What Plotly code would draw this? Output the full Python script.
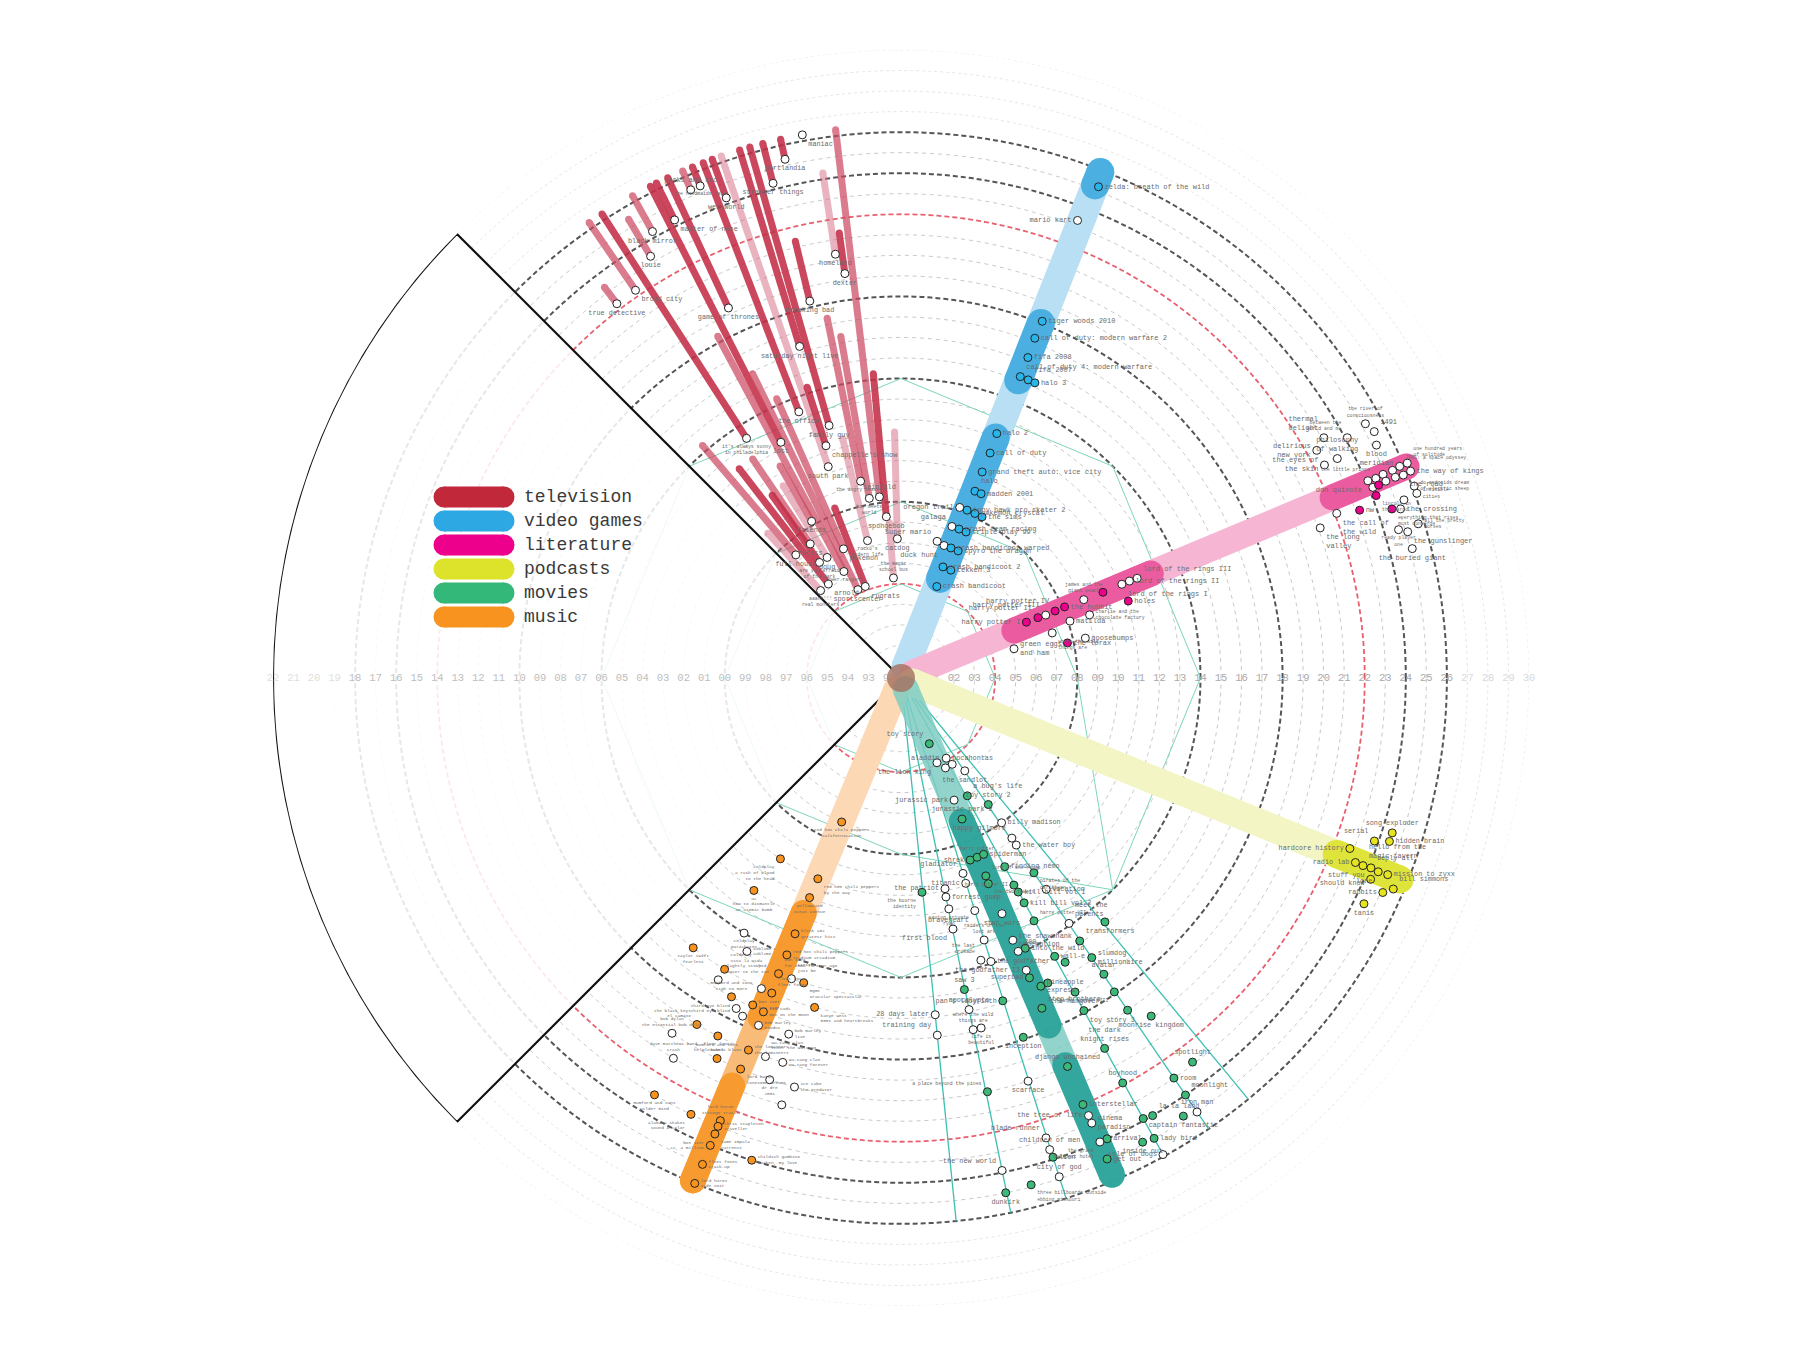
import numpy as np
import plotly.graph_objects as go

FONT = "Liberation Mono"
R_MIN = -0.585          # radial value at the very centre (age 0 sits on a small hub)
LABEL_GRAY = "#6b6b6b"

# ---------------- rings / ticks ----------------
ring_ages = list(range(1, 31))
dark_ring_ages = [8, 14, 18, 24, 26]
red_ring_ages = [4, 22]
faint_ring_ages = [27, 28, 29, 30]
tick_ages = list(range(0, 31))
left_tick_labels = ["92", "93", "94", "95", "96", "97", "98", "99", "00", "01", "02", "03", "04", "05", "06", "07",
                    "08", "09", "10", "11", "12", "13", "14", "15", "16", "17", "18", "19", "20", "21", "22"]
right_tick_labels = ["00", "01", "02", "03", "04", "05", "06", "07", "08", "09", "10", "11", "12", "13", "14", "15",
                     "16", "17", "18", "19", "20", "21", "22", "23", "24", "25", "26", "27", "28", "29", "30"]

# ---------------- radar polygons (movies) ----------------
poly_angles = [0, 45, 90, 135, 180, 225, 270, 315, 360]
poly_outer = [14, 14, 14, 14, 14, 14, 14, 14, 14]
poly_mid = [8, 8, 8, 8, 8, 8, 8, 14, 8]
poly_inner = [4, 4, 4, 4, 4, 4, 4, 4, 4]

# ---------------- legend ----------------
legend_labels = ["television", "video games", "literature", "podcasts", "movies", "music"]
legend_colors = ["#c1283a", "#2ea8e2", "#ec008c", "#dce32a", "#33b87a", "#f7931e"]

# ---------------- television ----------------
tv_names = ["broad city", "it's always sunny<br>in philadelphia", "true detective", "louie", "black mirror", "lost",
            "master of none", "game of thrones", "parks and rec", "the handmaids tale", "the office", "westworld",
            "south park", "saturday night live", "family guy", "stranger things", "portlandia", "maniac", "homeland",
            "dexter", "seinfeld", "breaking bad", "the angry beavers", "boy meets<br>world", "spongebob",
            "power rangers", "chappelle's show", "pokemon", "catdog", "the magic<br>school bus", "rocko's<br>modern life",
            "friends", "recess", "full house", "doug", "are you afraid<br>of the dark", "arnold",
            "aaahh!!!<br>real monsters", "sportscenter", "rugrats"]
tv_angle = [124.4, 122.8, 127.2, 120.7, 119.1, 117.0, 116.3, 115.0, 113.3, 112.2, 111.0, 110.0, 109.0, 107.0, 105.9,
            104.5, 102.6, 100.3, 98.8, 97.9, 96.8, 103.6, 101.6, 100.0, 95.2, 118.2, 107.9, 114.0, 91.5, 94.3, 103.7,
            119.7, 124.1, 130.5, 121.5, 125.2, 127.7, 132.6, 116.0, 111.3]
tv_start = [22.3, 13.3, 22.3, 23.3, 24.3, 12.3, 24.3, 19.3, 25.3, 25.3, 13.3, 24.3, 10.3, 16.3, 12.2, 24.3, 25.3, 26.3,
            20.3, 19.3, 8.3, 18.3, 9.2, 8.3, 7.3, 5.3, 11.3, 6.3, 6.2, 4.3, 6.3, 8.2, 7.3, 7.3, 6.3, 6.3, 5.2, 5.2,
            4.2, 4.2]
tv_end = [26.3, 26.3, 23.3, 25.4, 26.3, 26.3, 26.3, 26.3, 26.3, 26.3, 26.3, 26.3, 26.3, 26.3, 26.3, 26.3, 26.3, 26.3,
          24.3, 21.3, 26.3, 21.3, 17.3, 16.3, 14.3, 18.3, 14.3, 14.3, 11.4, 7.0, 11.4, 11.3, 12.3, 14.3, 10.4, 10.3,
          12.3, 9.0, 15.9, 8.3]
tv_tone = [1, 2, 1, 1, 1, 2, 2, 2, 1, 2, 2, 2, 0, 2, 2, 2, 2, 2, 0, 2, 1, 2, 1, 1, 2, 1, 2, 1, 0, 0, 0, 1, 1, 1, 0, 2,
           2, 0, 1, 2]
tv_small = [0, 1, 0, 0, 0, 0, 0, 0, 0, 1, 0, 0, 0, 0, 0, 0, 0, 0, 0, 0, 0, 0, 1, 1, 0, 1, 0, 0, 0, 1, 1, 0, 0, 0, 0, 1,
            0, 1, 0, 0]
tv_pos = ["bottom right", "bottom center", "bottom center", "bottom center", "bottom center", "bottom center",
          "bottom right", "bottom center", "top center", "bottom center", "bottom center", "bottom center",
          "bottom center", "bottom center", "bottom center", "bottom center", "bottom center", "bottom right",
          "bottom center", "bottom center", "top center", "bottom center", "bottom center", "bottom center",
          "bottom center", "bottom center", "bottom right", "bottom right", "bottom center", "top center",
          "bottom center", "bottom center", "bottom center", "bottom center", "bottom center", "bottom center",
          "bottom right", "bottom center", "bottom center", "bottom right"]

# ---------------- video games ----------------
vg_band_angle = 68.5
vg_band_end = 25.9
vg_dark_segments = [(4.6, 12.0), (15.0, 18.0), (25.2, 25.9)]
vg_names = ["zelda: breath of the wild", "mario kart", "tiger woods 2010", "call of duty: modern warfare 2",
            "fifa 2008", "call of duty 4: modern warfare", "fifa 2007", "halo 3", "halo 2", "call of duty",
            "grand theft auto: vice city", "halo", "madden 2001", "oregon trail", "tony hawk pro skater 2",
            "pokemon crystal", "the sims", "galaga", "crash team racing", "triple play 99", "super mario",
            "duck hunt", "crash bandicoot warped", "spyro the dragon", "crash bandicoot 2", "tekken 3",
            "crash bandicoot"]
vg_age = [25.2, 23.3, 18.1, 17.2, 16.2, 15.2, 15.2, 15.2, 12.2, 11.2, 10.2, 9.2, 9.2, 8.2, 8.2, 8.2, 8.2, 7.2, 7.2,
          7.2, 6.3, 6.2, 6.2, 6.2, 5.2, 5.2, 4.2]
vg_angle = [68.1, 68.9, 68.4, 68.5, 68.4, 68.4, 66.9, 65.6, 68.6, 68.4, 68.5, 68.4, 66.5, 71.0, 68.5, 65.8, 63.3,
            71.4, 68.7, 66.0, 75.2, 72.0, 69.0, 65.8, 69.3, 65.2, 68.6]
vg_filled = [1, 0, 1, 1, 1, 1, 1, 1, 1, 1, 1, 1, 1, 0, 1, 1, 1, 0, 1, 1, 0, 0, 1, 1, 1, 1, 1]
vg_pos = ["middle right", "middle left", "middle right", "middle right", "middle right", "top right", "top right",
          "middle right", "middle right", "middle right", "middle right", "top right", "middle right", "middle left",
          "middle right", "middle right", "middle right", "top left", "middle right", "middle right", "top left",
          "bottom left", "middle right", "middle right", "middle right", "middle right", "middle right"]

# ---------------- literature ----------------
lit_band_angle = 22.7
lit_band_end = 26.1
lit_dark_segments = [(5.4, 12.6), (22.2, 26.1)]
lit_names = ["harry potter I", "harry potter II", "harry potter III", "harry potter IV", "the hobbit",
             "james and the<br>giant peach", "", "lord of the rings I", "lord of the rings II", "lord of the rings III",
             "holes", "charlie and the<br>chocolate factory", "matilda", "where the wild<br>things are", "goosebumps",
             "the lorax", "green eggs<br>and ham",
             "the river of<br>consciousness", "1491", "blood<br>meridian", "between the<br>world and me",
             "thermal<br>delight", "delirious<br>new york", "philosophy<br>of walking", "the eyes of<br>the skin",
             "don quixote", "the little prince", "", "", "2001: a space odyssey", "one hundred years<br>of solitude",
             "the way of kings", "the road", "", "", "", "", "lincoln in<br>the bardo", "nw",
             "everything that rises<br>must converge", "the crossing", "the call of<br>the wild", "the long<br>valley",
             "", "do androids dream<br>of electric sheep", "invisible<br>cities", "all the pretty<br>horses",
             "ready player<br>one", "the gunslinger", "the buried giant"]
lit_age = [6.1, 6.7, 7.1, 7.6, 8.1, 9.1, 10.1, 11.1, 11.5, 11.9, 11.1, 9.1, 8.1, 7.1, 8.6, 7.7, 5.1,
           25.2, 25.4, 25.2, 24.1, 23.1, 22.5, 23.2, 22.5, 24.1, 24.5, 24.9, 25.4, 25.8, 26.2, 26.2, 25.8, 25.4,
           24.9, 24.2, 24.5, 24.2, 23.2, 24.7, 25.1, 22.1, 21.1, 25.4, 26.1, 26.1, 25.7, 24.7, 25.1, 25.1]
lit_angle = [24.0, 23.8, 23.5, 23.5, 23.5, 23.2, 23.0, 23.0, 23.0, 22.9, 18.7, 18.5, 18.6, 16.6, 12.2, 11.9, 14.5,
             28.7, 27.5, 26.1, 28.3, 29.6, 28.7, 26.7, 26.7, 22.9, 22.8, 22.9, 22.9, 23.0, 23.0, 22.1, 22.0, 22.1,
             22.1, 22.0, 22.0, 21.0, 20.1, 19.0, 18.7, 20.7, 19.7, 19.5, 20.5, 19.7, 16.6, 16.6, 16.1, 14.2]
lit_filled = [1, 1, 0, 1, 1, 0, 1, 0, 0, 0, 1, 0, 0, 0, 0, 1, 0,
              0, 0, 0, 0, 0, 0, 0, 0, 0, 0, 0, 0, 0, 0, 0, 0, 0, 0, 0, 1, 1, 1, 1, 0, 0, 0, 0, 0, 0, 0, 0, 0, 0]
lit_small = [0, 0, 0, 0, 0, 1, 0, 0, 0, 0, 0, 1, 0, 1, 0, 0, 0,
             1, 0, 0, 1, 0, 0, 0, 0, 0, 1, 0, 0, 1, 1, 0, 0, 0, 0, 0, 0, 1, 0, 1, 0, 0, 0, 0, 1, 1, 1, 1, 0, 0]
lit_pos = ["middle left", "top left", "top left", "top left", "middle right", "top center", "middle right",
           "bottom right", "middle right", "top right", "middle right", "middle right", "middle right",
           "bottom right", "middle right", "middle right", "middle right",
           "top center", "top right", "bottom center", "top left", "top left", "middle left", "top center",
           "middle left", "bottom left", "top left", "middle right", "middle right", "top right", "top right",
           "middle right", "bottom right", "middle right", "middle right", "middle right", "middle right",
           "bottom right", "middle right", "bottom right", "middle right", "bottom right", "bottom right",
           "middle right", "middle right", "middle right", "middle right", "bottom center", "bottom right",
           "bottom center"]

# ---------------- podcasts ----------------
pod_band_angle = -22.0
pod_band_end = 25.6
pod_dark_segments = [(22.3, 25.6)]
pod_names = ["hardcore history", "radio lab", "hello from the<br>magic tavern", "reply all", "lore",
             "mission to zyxx", "stuff you<br>should know", "serial", "hidden brain", "song exploder", "bill simmons",
             "rabbits", "tanis"]
pod_age = [22.8, 23.3, 23.7, 24.1, 24.5, 24.98, 24.3, 23.8, 24.5, 24.5, 25.5, 25.1, 24.5]
pod_angle = [-20.8, -22.1, -22.1, -22.0, -22.1, -22.0, -23.2, -19.0, -18.5, -17.5, -23.2, -24.0, -26.0]
pod_pos = ["middle left", "middle left", "top right", "top right", "bottom left", "middle right", "middle left",
           "top left", "middle right", "top center", "top right", "middle left", "bottom center"]

# ---------------- music ----------------
mus_band_angle = -112.5
mus_band_end = 25.9
mus_mid_segment = (11.8, 25.9)
mus_dark_segments = [(11.8, 17.3), (20.9, 25.9)]
mus_names = ["red hot chili peppers<br>californication", "coldplay<br>a rush of blood<br>to the head",
             "red hot chili peppers<br>by the way", "yellowcard<br>ocean avenue",
             "u2<br>how to dismantle<br>an atomic bomb", "blink 182<br>greatest hits",
             "red hot chili peppers<br>stadium arcadium", "bon iver<br>for emma forever ago",
             "fleet foxes<br>fleet foxes", "kid cudi<br>man on the moon", "bon iver<br>bon iver",
             "mumford and sons<br>sigh no more", "coldplay<br>viva la vida", "taylor swift<br>fearless",
             "mgmt<br>oracular spectacular", "kanye west<br>808s and heartbreaks", "the black keys<br>el camino",
             "fleet foxes<br>helplessness blues", "the lumineers<br>the lumineers", "mumford and sons<br>babel",
             "lord huron<br>lonesome dreams", "mumford and sons<br>wilder mind", "alabama shakes<br>sound & color",
             "lord huron<br>strange trails", "chris stapleton<br>traveller", "tame impala<br>currents",
             "bon iver<br>22, a million", "childish gambino<br>awaken, my love", "fleet foxes<br>crack-up",
             "lord huron<br>vide noir",
             "coldplay<br>parachutes", "sublime<br>sublime", "slightly stoopid<br>closer to the sun",
             "tiesto<br>just be", "", "third eye blind<br>third eye blind", "", "bob marley<br>exodus",
             "bob dylan<br>the essential bob dylan", "bob marley<br>live", "wu-tang clan<br>enter the wu-tang",
             "wu-tang clan<br>wu-tang forever", "dave matthews band<br>crash", "dr dre<br>2001",
             "ice cube<br>the predator", ""]
mus_age = [7.0, 10.0, 10.0, 11.0, 12.0, 12.9, 14.0, 15.0, 16.0, 17.0, 16.9, 17.0, 16.0, 16.0, 15.0, 16.0, 19.0,
           19.0, 19.0, 20.0, 20.0, 23.0, 23.0, 22.7, 23.0, 23.4, 24.0, 24.0, 25.0, 26.0,
           14.0, 14.7, 16.6, 15.0, 16.0, 17.4, 17.6, 17.7, 20.0, 17.6, 19.0, 19.0, 21.0, 20.0, 20.0, 21.0]
mus_angle = [-112.4, -123.7, -112.5, -112.6, -124.7, -112.5, -112.4, -112.5, -112.3, -112.4, -114.4, -118.0,
             -121.2, -127.6, -107.7, -104.7, -120.5, -117.1, -112.3, -115.8, -112.3, -120.6, -115.7, -112.2,
             -112.2, -112.2, -112.2, -107.2, -112.2, -112.2,
             -121.6, -119.4, -121.2, -110.0, -114.2, -116.5, -115.1, -112.3, -122.8, -107.5, -109.7, -107.1,
             -120.9, -108.1, -104.6, -105.6]
mus_filled = [1] * 30 + [0] * 16
mus_pos = ["bottom center", "bottom left", "bottom right", "bottom center", "bottom center", "middle right",
           "middle right", "top right", "top right", "middle right", "middle right", "top center", "top right",
           "bottom center", "bottom right", "bottom right", "top left", "bottom center", "middle right",
           "top center", "bottom right", "bottom center", "bottom left", "top center", "middle right",
           "bottom right", "middle left", "middle right", "middle right", "middle right",
           "bottom center", "middle right", "top right", "top right", "middle right", "middle left", "middle right",
           "middle right", "top center", "middle right", "top right", "middle right", "top center",
           "bottom center", "middle right", "middle right"]

# ---------------- movies ----------------
mov_line_angles = [-84.2, -78.4, -72.4, -61.2, -55.7, -50.5]
mov_line_end = 26.0
mov_band_angle = -67.0
mov_band_end = 25.7
mov_dark_segments = [(7.0, 17.8), (19.9, 25.7)]
mov_names = ["toy story", "the lion king", "pocahontas", "", "aladdin", "the sandlot", "a bug's life",
             "toy story 2", "jurassic park", "jurassic park 2", "billy madison", "happy gilmore", "the water boy",
             "shrek", "harry potter", "spiderman", "gladiator", "finding nemo", "titanic", "lord of the rings",
             "the two towers", "pirates of the<br>caribbean", "the patriot", "the bourne<br>identity",
             "harry potter II", "kill bill vol 1", "vacation", "forrest gump", "kill bill vol 2",
             "saving private<br>ryan", "braveheart", "harry potter VII", "star wars", "", "transformers",
             "meet the<br>parents", "first blood", "raiders of the<br>lost ark", "the shawshank<br>redemption",
             "into the wild", "300", "wall-e", "", "slumdog<br>millionaire", "the last<br>crusade", "the godfather",
             "the godfather II", "superbad", "avatar", "pineapple<br>express", "", "the hangover",
             "harry potter VIII", "saw 3", "pan's labyrinth", "step brothers", "toy story 3", "",
             "moonrise kingdom", "inception", "the dark<br>knight rises", "28 days later", "apocalypto",
             "training day", "where the wild<br>things are", "life is<br>beautiful",
             "a place beyond the pines", "django unchained", "boyhood", "spotlight", "room", "moonlight",
             "interstellar", "", "la la land", "captain fantastic", "arrival", "lady bird", "inside out", "get out",
             "lion", "three billboards outside<br>ebbing missouri", "dunkirk", "scarface", "the tree of life",
             "cinema<br>paradiso", "iron man", "the grand<br>budapest hotel", "blade runner", "children of men",
             "the new world", "city of god", "isle of dogs"]
mov_age = [2.9, 3.9, 3.9, 4.3, 4.3, 4.9, 6.0, 6.9, 5.9, 6.9, 8.0, 8.9, 9.3, 8.9, 8.9, 8.9, 9.4, 9.9, 9.9, 9.9, 10.3,
           10.9, 9.9, 9.9, 10.9, 11.3, 11.9, 10.3, 11.9, 10.9, 11.3, 12.9, 11.9, 14.9, 14.9, 13.9, 11.9, 12.8, 13.3,
           13.9, 13.9, 14.9, 15.4, 15.9, 13.7, 13.9, 14.9, 15.3, 16.9, 15.9, 15.9, 16.9, 17.9, 14.9, 15.9, 16.9,
           17.9, 19.0, 19.9, 17.9, 20.0, 15.9, 15.9, 16.9, 16.9, 16.9,
           20.0, 20.0, 21.9, 22.9, 23.0, 24.0, 22.0, 23.9, 24.0, 24.8, 24.0, 25.0, 24.9, 24.9, 23.9, 24.9, 25.0,
           20.0, 22.6, 23.0, 25.0, 24.0, 22.9, 23.5, 23.9, 24.9, 25.9]
mov_angle = [-66.7, -67.0, -60.6, -59.3, -63.7, -55.5, -60.6, -55.4, -66.5, -66.6, -55.2, -55.3, -55.4, -69.2, -67.0,
             -64.9, -72.4, -61.2, -72.5, -66.8, -67.0, -55.7, -78.2, -84.4, -61.4, -61.3, -55.5, -78.4, -61.3,
             -78.3, -72.4, -61.3, -66.8, -50.1, -55.8, -55.6, -78.3, -72.4, -66.9, -65.3, -66.8, -61.1, -60.0,
             -55.7, -74.2, -72.4, -66.8, -66.8, -55.6, -65.6, -64.3, -61.0, -55.8, -78.5, -72.5, -66.9, -61.2,
             -55.7, -53.5, -71.2, -61.2, -84.2, -78.4, -84.2, -78.4, -77.1,
             -78.2, -66.8, -61.3, -52.8, -55.7, -55.7, -66.9, -61.2, -60.1, -57.2, -65.9, -61.2, -62.5, -66.8,
             -72.4, -75.6, -78.5, -72.5, -66.8, -66.8, -55.7, -66.8, -72.5, -72.5, -78.4, -72.4, -61.2]
mov_filled = [1, 0, 0, 0, 0, 0, 1, 1, 0, 1, 0, 0, 0, 1, 1, 1, 0, 1, 0, 1, 1, 1, 0, 1, 1, 1, 0, 0, 1, 0, 0, 1, 0, 1,
              1, 0, 0, 0, 0, 1, 0, 1, 1, 1, 0, 0, 0, 1, 1, 1, 1, 1, 1, 1, 1, 1, 1, 1, 1, 1, 1, 0, 0, 0, 0, 0,
              1, 1, 1, 1, 1, 1, 1, 1, 1, 1, 1, 1, 1, 1, 1, 1, 1, 0, 0, 0, 0, 0, 0, 0, 0, 0, 0]
mov_small = [0, 0, 0, 0, 0, 0, 0, 0, 0, 0, 0, 0, 0, 0, 1, 0, 0, 0, 0, 1, 1, 1, 0, 1, 1, 0, 0, 0, 0, 1, 0, 1, 0, 0,
             0, 0, 0, 1, 0, 0, 0, 0, 0, 0, 1, 0, 0, 0, 0, 0, 0, 0, 1, 0, 0, 0, 0, 0, 0, 0, 0, 0, 0, 0, 1, 1,
             1, 0, 0, 0, 0, 0, 0, 0, 0, 0, 0, 0, 0, 0, 0, 1, 0, 0, 0, 0, 0, 1, 0, 0, 0, 0, 0]
mov_pos = ["top left", "bottom left", "middle right", "middle right", "top left", "bottom center", "top right",
           "top center", "middle left", "top center", "middle right", "top left", "middle right", "middle left",
           "top center", "middle right", "top left", "middle right", "middle left", "top right", "bottom right",
           "bottom right", "middle left", "bottom left", "middle left", "middle right", "middle right",
           "middle right", "middle right", "bottom center", "bottom left", "top right", "bottom center",
           "middle right", "top right", "top right", "bottom left", "top center", "middle right", "middle right",
           "top right", "middle right", "middle right", "middle right", "top left", "middle right", "middle left",
           "middle left", "top center", "middle right", "middle right", "bottom center", "bottom left",
           "top center", "middle left", "top right", "bottom right", "middle right", "bottom center",
           "bottom center", "top center", "middle left", "top center", "top left", "top center", "bottom center",
           "top left", "top center", "top center", "top center", "middle right", "top right", "middle right",
           "middle right", "top right", "bottom center", "middle right", "middle right", "bottom center",
           "middle right", "middle right", "bottom right", "bottom center", "bottom center", "middle left",
           "middle right", "top center", "bottom left", "top left", "top center", "top left", "top center",
           "middle left"]

# ---------------- colours ----------------
TV_COLOR = ["#d46a80", "#cc4a62", "#c42e47"]
TV_OPAC = [0.5, 0.72, 0.88]

fig = go.Figure()


def add_seg(theta, k0, k1, color, width, opacity):
    fig.add_trace(go.Scatterpolar(
        r=[k0, k1], theta=[theta, theta], mode="lines+markers",
        line=dict(color=color, width=width), marker=dict(color=color, size=width, line=dict(width=0)),
        opacity=opacity, hoverinfo="skip", showlegend=False, cliponaxis=False))


def add_points(ages, angles, filled, labels, positions, color, small=None, big=7.0, tiny=5.0):
    n = len(ages)
    if small is None:
        small = [0] * n
    fig.add_trace(go.Scatterpolar(
        r=ages, theta=angles, mode="markers+text", text=labels, textposition=positions,
        textfont=dict(family=FONT, size=[tiny if s else big for s in small], color=LABEL_GRAY),
        marker=dict(color=[color if f else "white" for f in filled], size=8, line=dict(color="#222", width=1)),
        hoverinfo="skip", showlegend=False, cliponaxis=False))


# rings
circle_th = np.linspace(0, 360, 721)
for k in ring_ages:
    if k in dark_ring_ages:
        c, w, d = "#555555", 2.0, "5px,3px"
    elif k in red_ring_ages:
        c, w, d = "#e8606e", 1.8, "5px,3px"
    elif k in faint_ring_ages:
        c, w, d = "#e6e6e6", 1.0, "3px,3px"
    else:
        c, w, d = "#c8c8c8", 1.0, "4px,4px"
    fig.add_trace(go.Scatterpolar(r=[k] * len(circle_th), theta=circle_th, mode="lines",
                                  line=dict(color=c, width=w, dash=d), hoverinfo="skip", showlegend=False))

# teal radar polygons
for pr in (poly_outer, poly_mid, poly_inner):
    fig.add_trace(go.Scatterpolar(r=pr, theta=poly_angles, mode="lines", line=dict(color="#7dd6b9", width=1.0),
                                  hoverinfo="skip", showlegend=False))

# white sector (left)
arc = list(np.linspace(135, 225, 181))
fig.add_trace(go.Scatterpolar(
    r=[R_MIN] + [30] * len(arc) + [R_MIN], theta=[135] + arc + [225], mode="lines", fill="toself",
    fillcolor="rgba(255,255,255,0.86)", line=dict(color="#111", width=2.2), hoverinfo="skip",
    showlegend=False, cliponaxis=False))

# year ticks
fig.add_trace(go.Scatterpolar(
    r=tick_ages, theta=[180] * len(tick_ages), mode="text", text=left_tick_labels,
    textfont=dict(family=FONT, size=10.5, color=["#bdbdbd" if k < 27 else "#dedede" for k in tick_ages]),
    hoverinfo="skip", showlegend=False, cliponaxis=False))
fig.add_trace(go.Scatterpolar(
    r=tick_ages, theta=[0] * len(tick_ages), mode="text", text=right_tick_labels,
    textfont=dict(family=FONT, size=10.5, color=["#a9a9a9" if k < 27 else "#d9d9d9" for k in tick_ages]),
    hoverinfo="skip", showlegend=False, cliponaxis=False))

# movie thin lines
for a in mov_line_angles:
    fig.add_trace(go.Scatterpolar(r=[0, mov_line_end], theta=[a, a], mode="lines",
                                  line=dict(color="#3dbfb1", width=1.3), hoverinfo="skip", showlegend=False))

# bands
add_seg(vg_band_angle, 0, vg_band_end, "#b9dff4", 28, 1.0)
for s0, s1 in vg_dark_segments:
    add_seg(vg_band_angle, s0, s1, "#3aa7e0", 28, 0.85)
add_seg(lit_band_angle, 0, lit_band_end, "#f6b5d3", 26, 1.0)
for s0, s1 in lit_dark_segments:
    add_seg(lit_band_angle, s0, s1, "#ea4c98", 26, 0.85)
add_seg(pod_band_angle, 0, pod_band_end, "#f3f5c4", 28, 1.0)
for s0, s1 in pod_dark_segments:
    add_seg(pod_band_angle, s0, s1, "#dde32c", 28, 0.9)
add_seg(mus_band_angle, 0, mus_band_end, "#fcd8b4", 26, 1.0)
add_seg(mus_band_angle, mus_mid_segment[0], mus_mid_segment[1], "#f9b46a", 26, 0.8)
for s0, s1 in mus_dark_segments:
    add_seg(mus_band_angle, s0, s1, "#f7931e", 26, 0.8)
add_seg(mov_band_angle, 0, mov_band_end, "#7fcdc3", 26, 0.85)
for s0, s1 in mov_dark_segments:
    add_seg(mov_band_angle, s0, s1, "#23a095", 26, 0.85)

# television segments
for i in range(len(tv_names)):
    t = tv_tone[i]
    if tv_end[i] > tv_start[i]:
        add_seg(tv_angle[i], tv_start[i], tv_end[i], TV_COLOR[t], 7, TV_OPAC[t])

# points + labels
add_points(tv_start, tv_angle, [0] * len(tv_names), tv_names, tv_pos, "#c1283a", tv_small, big=6.8, tiny=4.8)
add_points(vg_age, vg_angle, vg_filled, vg_names, vg_pos, "#29b5ea", big=7.0)
add_points(lit_age, lit_angle, lit_filled, lit_names, lit_pos, "#ec008c", lit_small, big=7.0, tiny=4.8)
add_points(pod_age, pod_angle, [1] * len(pod_names), pod_names, pod_pos, "#e6e41e", big=6.8)
add_points(mus_age, mus_angle, mus_filled, mus_names, mus_pos, "#f7931e", [1] * len(mus_names), tiny=4.4)
add_points(mov_age, mov_angle, mov_filled, mov_names, mov_pos, "#3cb878", mov_small, big=6.8, tiny=4.8)

# hub
fig.add_trace(go.Scatterpolar(r=[R_MIN], theta=[0], mode="markers",
                              marker=dict(color="rgba(165,110,92,0.8)", size=28, line=dict(width=0)),
                              hoverinfo="skip", showlegend=False, cliponaxis=False))

# page offset (browser body margin) compensation
OFF = 8
# invisible cartesian overlay (pixel units) for the legend
fig.add_trace(go.Scatter(x=[0], y=[0], mode="markers", marker=dict(opacity=0), hoverinfo="skip",
                         showlegend=False))
shapes = []
annotations = []
for i, (lab, col) in enumerate(zip(legend_labels, legend_colors)):
    y = 497 + 24 * i - OFF
    x0, x1 = 444 - OFF, 504 - OFF
    shapes.append(dict(type="line", xref="x", yref="y", x0=x0, x1=x1, y0=y, y1=y, layer="above",
                       line=dict(color=col, width=21)))
    for cx in (x0, x1):
        shapes.append(dict(type="circle", xref="x", yref="y", x0=cx - 10.5, x1=cx + 10.5, y0=y - 10.5,
                           y1=y + 10.5, layer="above", fillcolor=col, line=dict(width=0)))
    annotations.append(dict(x=522 - OFF, y=y, xref="x", yref="y", text=lab, showarrow=False, xanchor="left",
                            yanchor="middle", font=dict(family=FONT, size=18, color="#3a3a3a")))

CX, CY, RPX = 901 - OFF, 678 - OFF, 628
fig.update_layout(
    width=1800, height=1350, margin=dict(l=0, r=0, t=0, b=0),
    paper_bgcolor="white", plot_bgcolor="rgba(0,0,0,0)", showlegend=False,
    polar=dict(
        domain=dict(x=[(CX - RPX) / 1800, (CX + RPX) / 1800],
                    y=[(1350 - CY - RPX) / 1350, (1350 - CY + RPX) / 1350]),
        bgcolor="rgba(0,0,0,0)",
        radialaxis=dict(range=[R_MIN, 30], visible=False),
        angularaxis=dict(visible=False, rotation=0, direction="counterclockwise"),
    ),
    xaxis=dict(range=[0, 1800], visible=False, domain=[0, 1], fixedrange=True),
    yaxis=dict(range=[1350, 0], visible=False, domain=[0, 1], fixedrange=True),
    shapes=shapes, annotations=annotations,
)

fig.write_html("out.html")
